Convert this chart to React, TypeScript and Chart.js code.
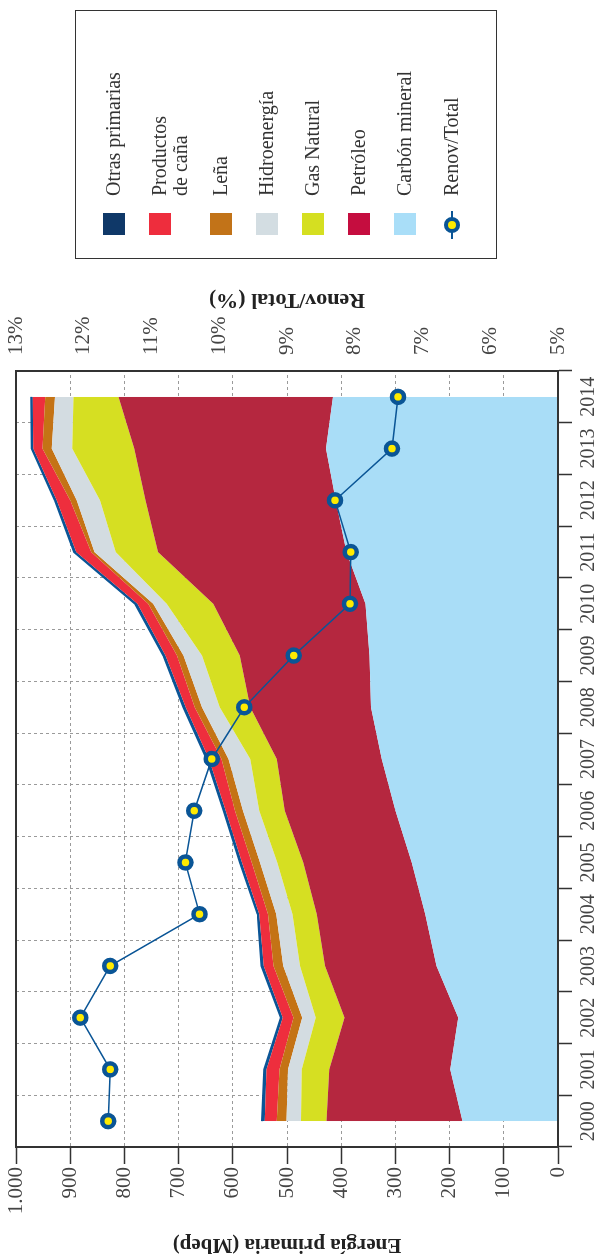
import React, { useEffect, useRef } from 'react';
import { Chart, registerables } from 'chart.js';

Chart.register(...registerables);

// ---- data ----
const years = ['2000', '2001', '2002', '2003', '2004', '2005', '2006', '2007', '2008', '2009', '2010', '2011', '2012', '2013', '2014'];
const carbonMineral = [176, 199, 184, 224, 245, 270, 300, 325, 345, 348, 355, 390, 410, 428, 415];
const petroleo = [251, 223, 210, 206, 200, 200, 204, 194, 223, 239, 281, 348, 351, 354, 396];
const gasNatural = [47, 51, 53, 46, 45, 48, 47, 49, 56, 70, 86, 78, 84, 114, 83];
const hidroenergia = [27, 25, 25, 31, 30, 32, 30, 40, 33, 34, 25, 39, 43, 38, 34];
const lena = [18, 16, 16, 18, 15, 15, 15, 13, 13, 12, 9, 6, 12, 17, 18];
const productosCana = [22, 24, 20, 18, 16, 18, 17, 23, 17, 21, 20, 28, 25, 17, 23];
const otrasPrimarias = [5, 4, 3, 4, 3, 4, 4, 4, 4, 4, 4, 4, 3, 3, 3];
const renovTotal = [11.64, 11.61, 12.05, 11.61, 10.29, 10.5, 10.37, 10.11, 9.63, 8.9, 8.07, 8.06, 8.29, 7.45, 7.36];

const energyTicks = { min: 0, max: 1000, step: 100 };
const percentTicks = { min: 5, max: 13, step: 1 };

const leftTitle = 'Energía primaria (Mbep)';
const rightTitle = 'Renov/Total (%)';

// stacked series, bottom to top
const stackNames = ['Carbón mineral', 'Petróleo', 'Gas Natural', 'Hidroenergía', 'Leña', 'Productos de caña', 'Otras primarias'];
const stackValues = [carbonMineral, petroleo, gasNatural, hidroenergia, lena, productosCana, otrasPrimarias];
const areaColors = ['#A9DDF7', '#B5273F', '#D6DF22', '#D3DCE1', '#C47315', '#EE2E3D', '#0B5796'];

// legend, top to bottom
const legendLabels = ['Otras primarias', 'Productos\nde caña', 'Leña', 'Hidroenergía', 'Gas Natural', 'Petróleo', 'Carbón mineral'];
const legendColors = ['#0F3868', '#EE2D3D', '#C27318', '#D3DDE2', '#D5DF21', '#C50D3F', '#A9DEF8'];
const lineLabel = 'Renov/Total';
const lineColor = '#0A5596';
const markerFill = '#FFEB00';

const W = 1257;
const H = 599;
const FONT = '"Liberation Serif", "Times New Roman", serif';

const fmtThousands = (v: number) => String(v).replace(/\B(?=(\d{3})+(?!\d))/g, '.');

export default function App() {
  const canvasRef = useRef<HTMLCanvasElement | null>(null);

  useEffect(() => {
    const canvas = canvasRef.current;
    if (!canvas) return;

    const stackDatasets = stackValues.map((vals, i) => ({
      type: 'line' as const,
      label: stackNames[i],
      data: vals,
      yAxisID: 'y',
      stack: 'energia',
      backgroundColor: areaColors[i],
      borderColor: i === stackValues.length - 1 ? '#0B5596' : areaColors[i],
      borderWidth: i === stackValues.length - 1 ? 2 : 0,
      pointRadius: 0,
      tension: 0,
      fill: i === 0 ? 'origin' : '-1',
    }));

    const frameAndTitle = {
      id: 'frameAndTitle',
      afterDraw(chart: any) {
        const { ctx, chartArea: a, scales } = chart;
        ctx.save();
        ctx.strokeStyle = '#333';
        ctx.lineWidth = 2;
        ctx.beginPath();
        ctx.moveTo(a.left - 1, a.top);
        ctx.lineTo(a.right + 1, a.top);
        ctx.stroke();
        const s = scales.y1;
        ctx.translate(s.left + 71, (a.top + a.bottom) / 2);
        ctx.rotate(-Math.PI / 2);
        ctx.font = `bold 22px ${FONT}`;
        ctx.fillStyle = '#222';
        ctx.textAlign = 'center';
        ctx.textBaseline = 'middle';
        ctx.fillText(rightTitle, 0, 0);
        ctx.restore();
      },
    };

    const chart = new Chart(canvas, {
      type: 'line',
      data: {
        labels: years,
        datasets: [
          {
            type: 'line',
            label: lineLabel,
            data: renovTotal,
            yAxisID: 'y1',
            borderColor: lineColor,
            borderWidth: 1.5,
            pointRadius: 6,
            pointBorderWidth: 4.5,
            pointBackgroundColor: markerFill,
            pointBorderColor: lineColor,
            fill: false,
            tension: 0,
          },
          ...stackDatasets,
        ] as any,
      },
      options: {
        responsive: false,
        maintainAspectRatio: false,
        devicePixelRatio: 1,
        animation: false,
        events: [],
        layout: { padding: { top: 16, right: 259, bottom: 0, left: 0 } },
        plugins: { legend: { display: false }, tooltip: { enabled: false } },
        scales: {
          x: {
            type: 'category',
            offset: true,
            grid: {
              offset: true,
              color: '#9a9a9a',
              lineWidth: 1,
              tickLength: 14,
              tickColor: '#333',
              tickWidth: 1.5,
            },
            border: { display: true, color: '#333', width: 2, dash: [3, 3], z: 1 },
            ticks: { font: { family: FONT, size: 20 }, color: '#444', padding: 5, maxRotation: 0, autoSkip: false },
            afterFit(scale: any) {
              scale.height = 41;
              scale.paddingLeft = 0;
              scale.paddingRight = 0;
            },
          },
          y: {
            type: 'linear',
            position: 'left',
            stacked: true,
            min: energyTicks.min,
            max: energyTicks.max,
            grid: {
              color: '#9a9a9a',
              lineWidth: 1,
              tickLength: 17,
              tickColor: '#333',
              tickWidth: 1.5,
            },
            border: { display: true, color: '#333', width: 2, dash: [3, 3], z: 1 },
            ticks: {
              stepSize: energyTicks.step,
              font: { family: FONT, size: 21 },
              color: '#444',
              padding: 3,
              callback: (v: any) => fmtThousands(Number(v)),
            },
            title: {
              display: true,
              text: leftTitle,
              font: { family: FONT, size: 21, weight: 'bold' },
              color: '#222',
              padding: { top: 0, bottom: 0 },
            },
            afterFit(scale: any) {
              scale.width = 110;
              scale.paddingTop = 0;
              scale.paddingBottom = 0;
            },
          },
          y1: {
            type: 'linear',
            position: 'right',
            min: percentTicks.min,
            max: percentTicks.max,
            grid: { drawOnChartArea: false, drawTicks: false },
            border: { display: true, color: '#333', width: 2, z: 1 },
            ticks: {
              stepSize: percentTicks.step,
              font: { family: FONT, size: 21 },
              color: '#444',
              padding: 16,
              callback: (v: any) => `${v}%`,
            },
            afterFit(scale: any) {
              scale.width = 112;
              scale.paddingTop = 0;
              scale.paddingBottom = 0;
            },
          },
        },
      } as any,
      plugins: [frameAndTitle],
    });

    return () => chart.destroy();
  }, []);

  const itemTops: number[] = [];
  let t = 103;
  legendLabels.forEach((lbl) => {
    itemTops.push(t);
    t += lbl.includes('\n') ? 61 : 46;
  });
  const lineTop = t;

  const legendLeft = 998;
  const legendTop = 75;

  return (
    <div
      style={{
        position: 'fixed',
        left: 0,
        top: 0,
        width: W,
        height: H,
        transformOrigin: '0 0',
        transform: `translateY(${W}px) rotate(-90deg)`,
        background: '#fff',
        overflow: 'hidden',
      }}
    >
      <canvas ref={canvasRef} width={W} height={H} style={{ position: 'absolute', left: 0, top: 0, width: W, height: H }} />
      <div
        style={{
          position: 'absolute',
          left: legendLeft,
          top: legendTop,
          width: 249,
          height: 422,
          boxSizing: 'border-box',
          border: '1.5px solid #333',
          fontFamily: FONT,
          fontSize: 20,
          color: '#333',
        }}
      >
        {legendLabels.map((lbl, i) => (
          <React.Fragment key={lbl}>
            <div
              style={{
                position: 'absolute',
                left: 23,
                top: itemTops[i] - legendTop - 1.5,
                width: 22,
                height: 22,
                background: legendColors[i],
              }}
            />
            <div
              style={{
                position: 'absolute',
                left: 62,
                top: itemTops[i] - legendTop - 1,
                lineHeight: '21px',
                whiteSpace: 'pre',
              }}
            >
              {lbl}
            </div>
          </React.Fragment>
        ))}
        <div style={{ position: 'absolute', left: 19, top: lineTop - legendTop + 9.5, width: 28, height: 2, background: lineColor }} />
        <div
          style={{
            position: 'absolute',
            left: 25,
            top: lineTop - legendTop + 2.5,
            width: 16,
            height: 16,
            boxSizing: 'border-box',
            borderRadius: '50%',
            border: `4px solid ${lineColor}`,
            background: markerFill,
          }}
        />
        <div style={{ position: 'absolute', left: 62, top: lineTop - legendTop, lineHeight: '21px', whiteSpace: 'pre' }}>
          {lineLabel}
        </div>
      </div>
    </div>
  );
}
